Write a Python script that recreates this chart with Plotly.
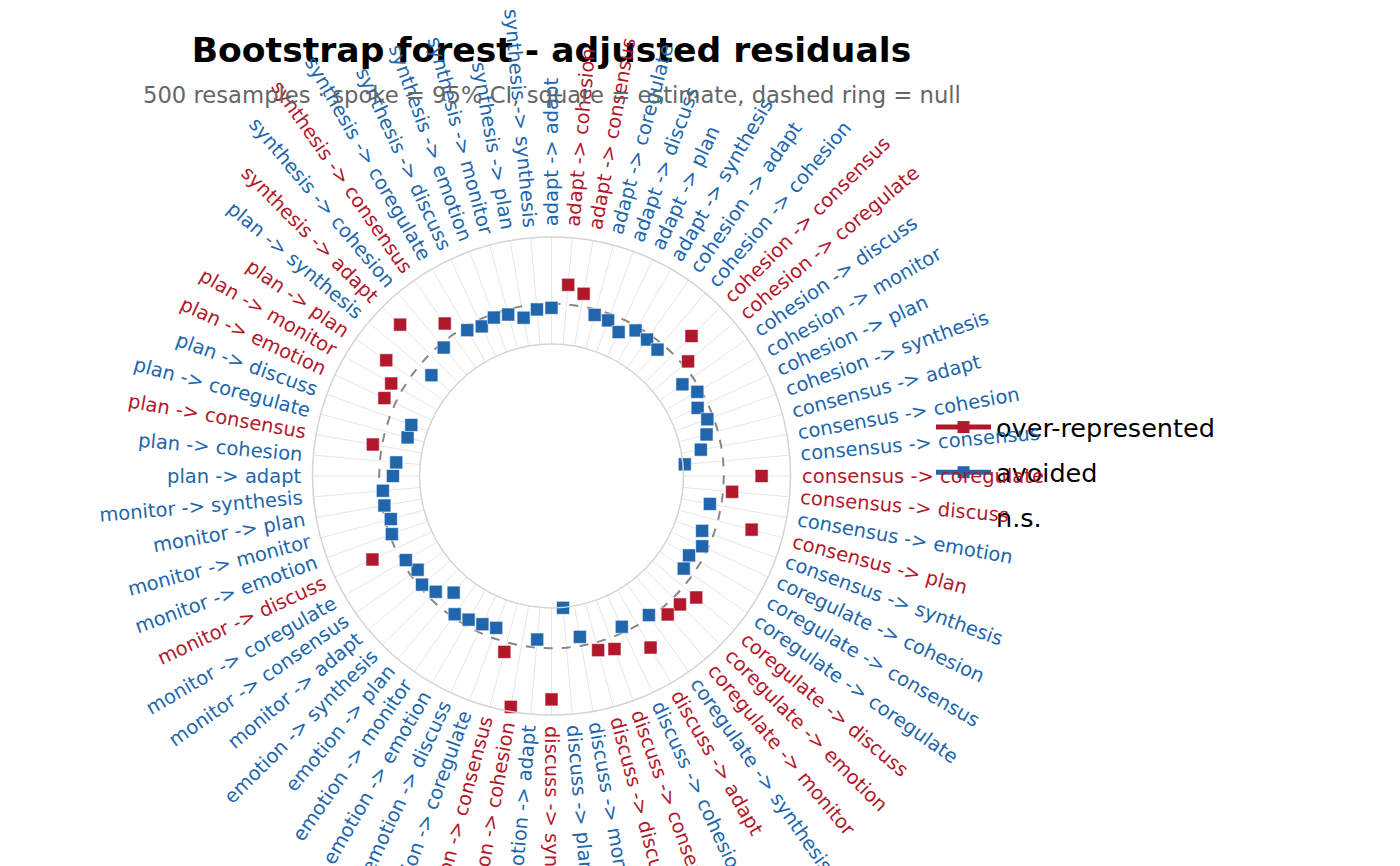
import math

import plotly.graph_objects as go

# edges kept in the bootstrap forest (n.s. edges are not drawn)
edges = [
    "adapt -> adapt", "adapt -> cohesion", "adapt -> consensus", "adapt -> coregulate",
    "adapt -> discuss", "adapt -> plan", "adapt -> synthesis",
    "cohesion -> adapt", "cohesion -> cohesion", "cohesion -> consensus", "cohesion -> coregulate",
    "cohesion -> discuss", "cohesion -> monitor", "cohesion -> plan", "cohesion -> synthesis",
    "consensus -> adapt", "consensus -> cohesion", "consensus -> consensus", "consensus -> coregulate",
    "consensus -> discuss", "consensus -> emotion", "consensus -> plan", "consensus -> synthesis",
    "coregulate -> cohesion", "coregulate -> consensus", "coregulate -> coregulate",
    "coregulate -> discuss", "coregulate -> emotion", "coregulate -> monitor", "coregulate -> synthesis",
    "discuss -> adapt", "discuss -> cohesion", "discuss -> consensus", "discuss -> discuss",
    "discuss -> monitor", "discuss -> plan", "discuss -> synthesis",
    "emotion -> adapt", "emotion -> cohesion", "emotion -> consensus", "emotion -> coregulate",
    "emotion -> discuss", "emotion -> emotion", "emotion -> monitor", "emotion -> plan",
    "emotion -> synthesis",
    "monitor -> adapt", "monitor -> consensus", "monitor -> coregulate", "monitor -> discuss",
    "monitor -> emotion", "monitor -> monitor", "monitor -> plan", "monitor -> synthesis",
    "plan -> adapt", "plan -> cohesion", "plan -> consensus", "plan -> coregulate",
    "plan -> discuss", "plan -> emotion", "plan -> monitor", "plan -> plan", "plan -> synthesis",
    "synthesis -> adapt", "synthesis -> cohesion", "synthesis -> consensus", "synthesis -> coregulate",
    "synthesis -> discuss", "synthesis -> emotion", "synthesis -> monitor", "synthesis -> plan",
    "synthesis -> synthesis",
]

estimate = [
    -0.41, 1.94, 1.26, -0.55, -0.67, -1.34, -0.42,
    -0.57, -0.73, 2.54, 0.59, -1.24, -0.39, -1.10, -0.64,
    -1.17, -2.05, -3.82, 3.74, 0.89, -1.14, 3.45, -1.19,
    -0.60, -1.34, -1.08, 1.65, 0.92, 0.83, -0.25,
    2.55, -0.59, 1.17, 0.79, -0.89, -3.96, 5.06,
    -0.81, 6.15, 0.97, -1.06, -0.87, -0.64, -0.35, -1.99, -0.85,
    -0.33, -0.88, -0.41, 2.50, -0.24, -0.59, -0.26, -0.30,
    -1.36, -1.63, 0.90, -2.31, -2.29, 1.19, 1.26, 2.91, -1.54,
    4.13, -0.46, 1.37, -0.39, -0.72, -0.37, -0.51, -1.15, -0.51,
]

over = [e > 0 for e in estimate]

RED = "#B2182B"
BLUE = "#2166AC"
FONT = "DejaVu Sans"

W, H = 1400, 866
OFF = 8  # page body margin
CX, CY, RAD = 551.5 - OFF, 476.0 - OFF, 239.0
TOP = CY - RAD
BOTTOM = H - (CY + RAD)
PH = H - TOP - BOTTOM


def py(screen_y):
    return (H - BOTTOM - (screen_y - OFF)) / PH


fig = go.Figure()

# null ring
fig.add_trace(go.Scatterpolar(
    r=[0] * (len(edges) + 1),
    theta=edges + edges[:1],
    mode="lines",
    line=dict(color="#878787", width=2, dash="dash"),
    hoverinfo="skip",
    showlegend=False,
))

for flag, color, name in [(True, RED, "over-represented"), (False, BLUE, "avoided")]:
    fig.add_trace(go.Scatterpolar(
        r=[e for e, o in zip(estimate, over) if o == flag],
        theta=[t for t, o in zip(edges, over) if o == flag],
        mode="markers",
        marker=dict(symbol="square", size=13, color=color,
                    line=dict(color="rgba(255,255,255,0.55)", width=1)),
        name=name,
        showlegend=False,
    ))

# legend entries
for color, name in [(RED, "over-represented"), (BLUE, "avoided"), ("rgba(0,0,0,0)", "n.s.")]:
    fig.add_trace(go.Scatterpolar(
        r=[None], theta=[None],
        mode="lines+markers",
        line=dict(color=color, width=5),
        marker=dict(symbol="square", size=12, color=color),
        name=name,
        legendgroup=name,
    ))

# radial labels
CW = {"a": .613, "c": .550, "d": .635, "e": .615, "g": .635, "h": .634, "i": .278,
      "l": .278, "m": .974, "n": .634, "o": .612, "p": .635, "r": .411, "s": .521,
      "t": .392, "u": .634, "y": .592, "v": .592, " ": .318, "-": .361, ">": .838}
LAB_SIZE = 19.5
R_LAB = 250

px_x = CX / W
px_y = (H - BOTTOM - CY) / PH

annotations = []
for k, lab in enumerate(edges):
    phi = 360.0 * k / len(edges)
    w = sum(CW.get(c, 0.6) for c in lab) * LAB_SIZE
    d = R_LAB + w / 2
    ang = phi - 90 if phi <= 180 else phi - 270
    annotations.append(dict(
        x=px_x, y=px_y, xref="paper", yref="paper",
        text=lab, showarrow=False, textangle=ang,
        xanchor="center", yanchor="middle",
        xshift=d * math.sin(math.radians(phi)),
        yshift=d * math.cos(math.radians(phi)),
        font=dict(family=FONT, size=LAB_SIZE, color=RED if over[k] else BLUE),
    ))

annotations.append(dict(
    x=px_x, y=py(95), xref="paper", yref="paper",
    text="500 resamples · spoke = 95% CI, square = estimate, dashed ring = null",
    showarrow=False, xanchor="center", yanchor="middle",
    font=dict(family=FONT, size=22.7, color="#666666"),
))

fig.update_layout(
    width=W, height=H,
    margin=dict(l=0, r=0, t=TOP, b=BOTTOM),
    paper_bgcolor="white",
    font=dict(family=FONT),
    title=dict(
        text="<b>Bootstrap forest - adjusted residuals</b>",
        x=CX / W, xref="container", xanchor="center",
        y=1 - (50 - OFF) / H, yref="container", yanchor="middle",
        font=dict(family=FONT, size=34.6, color="black"),
    ),
    polar=dict(
        domain=dict(x=[(CX - RAD) / W, (CX + RAD) / W], y=[0, 1]),
        hole=0.552,
        bgcolor="white",
        radialaxis=dict(
            range=[-4, 6.6], showticklabels=False, ticks="", showline=False,
            tickvals=[-4], showgrid=True, gridcolor="#d4d4d4", gridwidth=1.5,
        ),
        angularaxis=dict(
            type="category", categoryorder="array", categoryarray=edges,
            direction="clockwise", rotation=90,
            showticklabels=False, ticks="",
            showline=True, linecolor="#d4d4d4", linewidth=1.5,
            showgrid=True, gridcolor="#e6e6e6", gridwidth=1,
        ),
    ),
    legend=dict(
        x=(931 - OFF) / W, y=py(404),
        xanchor="left", yanchor="top",
        itemwidth=55, tracegroupgap=9,
        font=dict(family=FONT, size=25.5, color="black"),
        bgcolor="rgba(0,0,0,0)",
    ),
    annotations=annotations,
)

fig.write_html("out.html")
